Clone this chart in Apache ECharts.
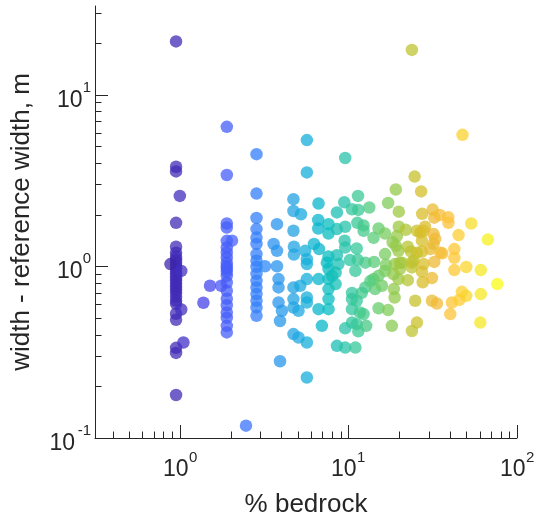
<!DOCTYPE html>
<html><head><meta charset="utf-8">
<script src="https://cdn.jsdelivr.net/npm/echarts@6/dist/echarts.min.js"></script>
<style>html,body{margin:0;padding:0;background:#fff}#c{width:541px;height:525px}</style>
</head><body><div id="c"></div>
<script>
// ---------------- data ----------------
const col1X = 0.95;
const col1Y = [20.4, 3.80, 3.57, 1.79, 1.30, 1.20, 1.136, 1.09, 1.048, 1.007, 0.967, 0.929, 0.892, 0.857, 0.823, 0.791, 0.760, 0.730, 0.701, 0.665, 0.630, 0.605, 0.529, 0.488, 0.335, 0.313, 0.178];
const col2X = 1.9;
const col2Y = [6.49, 3.40, 1.775, 1.683, 1.407, 1.287, 1.203, 1.125, 1.048, 1.0, 0.967, 0.93, 0.880, 0.805, 0.720, 0.647, 0.593, 0.538, 0.501, 0.450, 0.412];
const col3X = 2.85;
const col3Y = [4.50, 2.65, 1.91, 1.647, 1.47, 1.35, 1.178, 1.077, 0.993, 0.904, 0.823, 0.753, 0.689, 0.630, 0.576, 0.515];
const otherPoints = [
  [1.0,2.57],[0.88,1.03],[1.02,0.94],[1.02,0.56],[1.05,0.36],
  [2.04,1.41],[1.51,0.77],[1.76,0.77],[1.38,0.613],[2.47,0.118],
  [3.77,1.76],[3.6,1.35],[3.77,1.23],[3.2,1.0],[3.77,1.0],[3.85,0.842],[3.85,0.753],[3.85,0.615],[4.03,0.551],[3.93,0.48],[3.93,0.28],
  [4.72,2.46],[4.72,2.10],[5.23,2.01],[4.72,1.61],[4.75,1.30],[4.75,1.17],[4.72,0.753],[4.72,0.644],[4.72,0.575],[5.18,0.77],[5.06,0.551],[4.72,0.403],[5.06,0.385],
  [5.67,5.43],[5.67,3.52],[5.54,1.23],[5.67,1.1],[5.67,1.03],[5.67,0.842],[5.67,0.658],[5.67,0.615],[5.67,0.36],[5.67,0.225],[6.25,1.35],
  [6.65,2.32],[6.62,1.86],[6.62,1.66],[6.7,1.26],[6.65,0.842],[6.65,0.563],[6.96,0.45],
  [7.62,1.76],[7.62,1.55],[7.62,1.14],[7.45,1.05],[7.62,0.963],[7.62,0.842],[7.62,0.737],[7.62,0.644],[7.62,0.563],[8.0,0.88],
  [8.55,2.06],[8.55,1.647],[8.55,1.16],[8.73,1.03],[8.4,0.92],[8.4,0.788],[8.55,0.344],
  [9.57,4.27],[9.45,2.36],[9.57,1.70],[9.5,1.41],[9.57,1.287],[9.57,0.435],[9.57,0.336],
  [10.5,2.15],[10.2,1.087],[10.5,0.70],[10.5,0.644],[10.5,0.563],[10.5,0.47],[11.0,0.94],[11.0,0.336],
  [11.4,2.57],[11.45,2.13],[11.3,1.79],[11.2,1.27],[11.35,1.09],[11.2,0.63],[11.2,0.46],[11.45,0.418],[11.7,0.538],
  [12.3,1.73],[12.3,1.61],[12.6,1.05],[12.6,0.753],[12.0,0.70],[12.3,0.527],[12.75,0.45],
  [13.3,2.20],[14.1,1.465],[14.2,1.06],[14.1,0.842],[13.5,0.82],[14.4,0.737],[15.1,1.66],[15.1,0.88],[15.1,0.57],[15.8,0.77],[16.5,1.55],[16.5,1.178],[16.7,1.02],[16.5,0.94],
  [17.2,2.34],[19.1,2.8],[19.9,2.08],[19.9,1.70],[19.4,1.5],[18.3,1.38],[19.8,1.23],[19.1,1.316],[18.9,1.03],[20.2,1.05],[20.8,1.05],[17.2,0.556],[18.1,0.45],[18.6,0.737],[18.8,0.658],[19.8,0.842],[18.5,0.9],[20.2,0.963],
  [21.9,1.63],[22.5,1.30],[23.5,1.22],[23.8,18.2],[24.7,3.33],[27.0,2.73],[27.4,2.02],[25.5,1.61],[26.7,1.57],[27.3,1.22],[25.5,1.2],[27.9,1.61],[27.3,1.41],[24.4,1.077],[23.8,1.05],[27.9,1.03],[23.8,0.985],[22.5,0.83],[27.3,0.93],[27.6,0.807],[24.9,0.63],[25.5,0.47],[23.8,0.42],
  [28.5,1.70],[31.6,2.14],[32.3,1.92],[34.8,1.99],[32.0,1.54],[32.7,1.445],[32.0,1.35],[30.6,1.26],[35.1,1.20],[36.0,1.19],[32.3,1.06],[31.3,0.855],[31.3,0.63],[33.5,0.607],
  [39.1,1.93],[39.2,1.79],[45.0,1.52],[42.5,1.26],[42.5,1.12],[47.5,5.83],[42.5,0.95],[40.2,0.527],[41.1,0.615],[47.1,0.71],[50.0,0.673],[45.5,0.637],[50.0,0.99],
  [53.5,1.775],[67.2,1.43],[61.0,0.95],[61.0,0.689],[60.6,0.47],[76.4,0.788]
];
const xMajorTicks = [1, 10, 100];
const xTickExponents = ['0', '1', '2'];
const xMinorTicks = [0.4,0.5,0.6,0.7,0.8,0.9, 2,3,4,5,6,7,8,9, 20,30,40,50,60,70,80,90];
const yMajorTicks = [0.1, 1, 10];
const yTickExponents = ['-1', '0', '1'];
const yMinorTicks = [0.2,0.3,0.4,0.5,0.6,0.7,0.8,0.9, 2,3,4,5,6,7,8,9, 20,30];
const X_MIN = 0.314, X_MAX = 100, Y_MIN = 0.1, Y_MAX = 32.8;

// ---------------- style ----------------
const AXIS = '#262626';
const FONT = '"Liberation Sans", Arial, Helvetica, sans-serif';
const PARULA = [
 [0.2422,0.1504,0.6603],[0.2647,0.1978,0.7952],[0.2783,0.2559,0.8991],[0.2810,0.3228,0.9579],
 [0.2699,0.3892,0.9906],[0.2206,0.4603,0.9973],[0.1786,0.5289,0.9682],[0.1540,0.5902,0.9218],
 [0.1248,0.6459,0.8883],[0.0689,0.6948,0.8394],[0.0067,0.7312,0.7660],[0.1408,0.7584,0.6842],
 [0.2161,0.7843,0.5923],[0.3406,0.8008,0.4789],[0.5044,0.7993,0.3480],[0.6720,0.7793,0.2227],
 [0.8203,0.7498,0.1535],[0.9393,0.7288,0.2100],[0.9970,0.7659,0.2199],[0.9786,0.8386,0.1766],
 [0.9597,0.9135,0.1423],[0.9769,0.9839,0.0805]
];

const points = [];
col1Y.forEach(y => points.push([col1X, y]));
col2Y.forEach(y => points.push([col2X, y]));
col3Y.forEach(y => points.push([col3X, y]));
otherPoints.forEach(p => points.push(p));

const lx = points.map(p => Math.log10(p[0]));
const lmin = Math.min(...lx), lmax = Math.max(...lx);
function parula(t) {
  t = Math.max(0, Math.min(1, t));
  const f = t * (PARULA.length - 1);
  const i = Math.min(PARULA.length - 2, Math.floor(f));
  const u = f - i;
  const c = PARULA[i].map((v, k) => Math.round(255 * (v + (PARULA[i + 1][k] - v) * u)));
  return 'rgb(' + c.join(',') + ')';
}

const xTicks = xMajorTicks.map((v, i) => ({ v, major: true, exp: xTickExponents[i] }))
  .concat(xMinorTicks.map(v => ({ v, major: false })));
const yTicks = yMajorTicks.map((v, i) => ({ v, major: true, exp: yTickExponents[i] }))
  .concat(yMinorTicks.map(v => ({ v, major: false })));

function txt(text, x, y, size, align) {
  return { type: 'text', style: { text, x, y, fill: AXIS, fontSize: size, fontFamily: FONT, align, verticalAlign: 'middle' } };
}

const chart = echarts.init(document.getElementById('c'), null, { renderer: 'canvas' });
chart.setOption({
  animation: false,
  backgroundColor: '#fff',
  grid: { left: 95, right: 24, top: 6, bottom: 87 },
  xAxis: {
    type: 'log', logBase: 10, min: X_MIN, max: X_MAX,
    axisLine: { show: true, lineStyle: { color: AXIS, width: 1 } },
    axisTick: { show: false }, axisLabel: { show: false }, splitLine: { show: false },
    name: '% bedrock', nameLocation: 'middle', nameGap: 54,
    nameTextStyle: { fontSize: 26, color: AXIS, fontFamily: FONT }
  },
  yAxis: {
    type: 'log', logBase: 10, min: Y_MIN, max: Y_MAX,
    axisLine: { show: true, lineStyle: { color: AXIS, width: 1 } },
    axisTick: { show: false }, axisLabel: { show: false }, splitLine: { show: false },
    name: 'width - reference width, m', nameLocation: 'middle', nameGap: 60, nameRotate: 90,
    nameTextStyle: { fontSize: 26, color: AXIS, fontFamily: FONT }
  },
  series: [
    {
      type: 'scatter', data: points, symbol: 'circle', symbolSize: 12.5,
      itemStyle: {
        opacity: 0.75,
        color: p => parula((Math.log10(p.value[0]) - lmin) / (lmax - lmin))
      },
      z: 2
    },
    {
      type: 'custom', coordinateSystem: 'cartesian2d', silent: true, clip: false, z: 3,
      data: xTicks.map(t => [t.v, Y_MIN]),
      renderItem: (params, api) => {
        const t = xTicks[params.dataIndex];
        const p = api.coord([t.v, Y_MIN]);
        const x = Math.round(p[0]) + 0.5, y = p[1];
        const len = t.major ? 13 : 6.5;
        const ch = [{ type: 'line', shape: { x1: x, y1: y, x2: x, y2: y - len }, style: { stroke: AXIS, lineWidth: 1 } }];
        if (t.major) {
          ch.push(txt('10', x + 8, y + 32, 23, 'right'));
          ch.push(txt(t.exp, x + 8.5, y + 20, 15, 'left'));
        }
        return { type: 'group', children: ch };
      }
    },
    {
      type: 'custom', coordinateSystem: 'cartesian2d', silent: true, clip: false, z: 3,
      data: yTicks.map(t => [X_MIN, t.v]),
      renderItem: (params, api) => {
        const t = yTicks[params.dataIndex];
        const p = api.coord([X_MIN, t.v]);
        const x = p[0], y = Math.round(p[1]) + 0.5;
        const len = t.major ? 13 : 6.5;
        const ch = [{ type: 'line', shape: { x1: x, y1: y, x2: x + len, y2: y }, style: { stroke: AXIS, lineWidth: 1 } }];
        if (t.major) {
          const ew = t.exp.length > 1 ? 16 : 8.5;
          ch.push(txt(t.exp, x - 4, y - 8, 15, 'right'));
          ch.push(txt('10', x - 4 - ew, y + 5, 23, 'right'));
        }
        return { type: 'group', children: ch };
      }
    }
  ]
});
</script></body></html>
